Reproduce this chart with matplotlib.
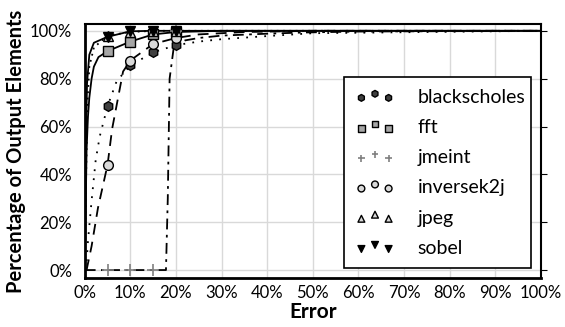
import matplotlib.pyplot as plt
from matplotlib.ticker import FuncFormatter

plt.rcParams['font.family'] = ['Lato', 'DejaVu Sans']

# error (%) where the markers sit
mark_x = [5, 10, 15, 20]

# curves (error %, percentage of output elements)
bs_x = [0.3, 0.7, 1.5, 2.4, 3.3, 5, 7, 10, 15, 20, 25, 30, 40, 50, 100]
bs_y = [0, 12, 29, 46, 56, 68.5, 79, 85.5, 91, 94, 95.5, 96.5, 97.8, 99, 100]
bs_m = [68.5, 85.5, 91, 94]

fft_x = [0, 0.2, 0.4, 0.7, 1, 1.5, 2, 3, 5, 10, 15, 20, 30, 100]
fft_y = [0, 25, 50, 64, 72, 80, 85, 89, 91.5, 95.5, 98.5, 99.5, 100, 100]
fft_m = [91.5, 95.5, 98.5, 99.5]

jm_x = [0, 5, 10, 15, 17.8, 18.2, 18.6, 19.5, 22, 25, 30, 40, 48, 60, 100]
jm_y = [0, 0, 0, 0, 0, 30, 80, 93, 96, 97, 98, 98.8, 99.3, 99.7, 100]
jm_m = [0, 0, 0, 100]

ik_x = [0.4, 1.5, 2.9, 5, 6, 7, 8.4, 10, 11, 15, 20, 25, 35, 50, 100]
ik_y = [0, 10, 26, 44, 59, 69, 83, 87.5, 89, 94.5, 97, 98.5, 99.5, 100, 100]
ik_m = [44, 87.5, 94.5, 97]

jp_x = [0, 0.3, 0.6, 1, 2, 5, 10, 15, 20, 100]
jp_y = [0, 40, 70, 85, 93, 98, 99.5, 100, 100, 100]
jp_m = [98, 99.5, 100, 100]

sb_x = [0, 0.2, 0.5, 1, 2, 5, 10, 15, 20, 100]
sb_y = [0, 50, 78, 90, 95, 97.5, 99.8, 100, 100, 100]
sb_m = [97.5, 99.8, 100, 100]

series = [
    ("blackscholes", bs_x, bs_y, bs_m, dict(ls=(0, (1, 4)), color="black"),
     dict(marker="h", mfc="#3f3f3f", mec="black", ms=7)),
    ("fft", fft_x, fft_y, fft_m, dict(ls="-", color="black"),
     dict(marker="s", mfc="#a6a6a6", mec="black", ms=7)),
    ("jmeint", jm_x, jm_y, jm_m, dict(ls=(0, (6, 3, 1.5, 3)), color="black"),
     dict(marker="+", mfc="#808080", mec="#808080", ms=8, mew=1.2)),
    ("inversek2j", ik_x, ik_y, ik_m, dict(ls=(0, (6, 4)), color="black"),
     dict(marker="o", mfc="#d9d9d9", mec="black", ms=7)),
    ("jpeg", jp_x, jp_y, jp_m, dict(ls=(0, (1, 2.5)), color="black"),
     dict(marker="^", mfc="#d9d9d9", mec="black", ms=7)),
    ("sobel", sb_x, sb_y, sb_m, dict(ls="-", color="black"),
     dict(marker="v", mfc="black", mec="black", ms=7)),
]

fig = plt.figure(figsize=(5.65, 3.27), dpi=100)
ax = fig.add_axes([0.150, 0.150, 0.8075, 0.777])

handles = []
for name, xs, ys, ms, lstyle, mstyle in series:
    ax.plot(xs, ys, lw=1.3, zorder=3, **lstyle)
    ax.plot(mark_x, ms, ls="none", zorder=4, **mstyle)
    h = ax.scatter([], [], marker=mstyle["marker"], s=24,
                   facecolor=mstyle["mfc"], edgecolor=mstyle["mec"],
                   linewidths=mstyle.get("mew", 1.0))
    handles.append((h, name))

ax.set_xlim(0, 100)
ax.set_ylim(-3.3, 102.9)
ax.set_xticks(range(0, 101, 10))
ax.set_yticks(range(0, 101, 20))
pct = FuncFormatter(lambda v, p: f"{int(v)}%")
ax.xaxis.set_major_formatter(pct)
ax.yaxis.set_major_formatter(pct)
ax.grid(True, color="#d9d9d9", lw=1.0, zorder=0)
ax.tick_params(axis="x", length=0, labelsize=12, pad=5)
ax.tick_params(axis="y", left=False, right=True, direction="out", length=4,
               labelsize=12, pad=5)
for s in ax.spines.values():
    s.set_linewidth(1.5)
ax.spines["left"].set_linewidth(2)
ax.spines["bottom"].set_linewidth(2)

ax.set_xlabel("Error", fontsize=15, fontweight="bold", labelpad=1)
ax.set_ylabel("Percentage of Output Elements", fontsize=14.5, fontweight="bold",
              labelpad=3)

leg = ax.legend([h for h, _ in handles], [n for _, n in handles],
                loc="upper left", bbox_to_anchor=(0.568, 0.047, 0.41, 0.744),
                mode="expand", scatterpoints=3,
                scatteryoffsets=[0.35, 0.65, 0.35], fontsize=14,
                labelspacing=0.68, handlelength=2.0, handletextpad=1.2,
                borderpad=0.6, borderaxespad=0, fancybox=False, framealpha=1,
                edgecolor="black")
leg.get_frame().set_linewidth(1.2)

fig.savefig("out.png", dpi=100)
